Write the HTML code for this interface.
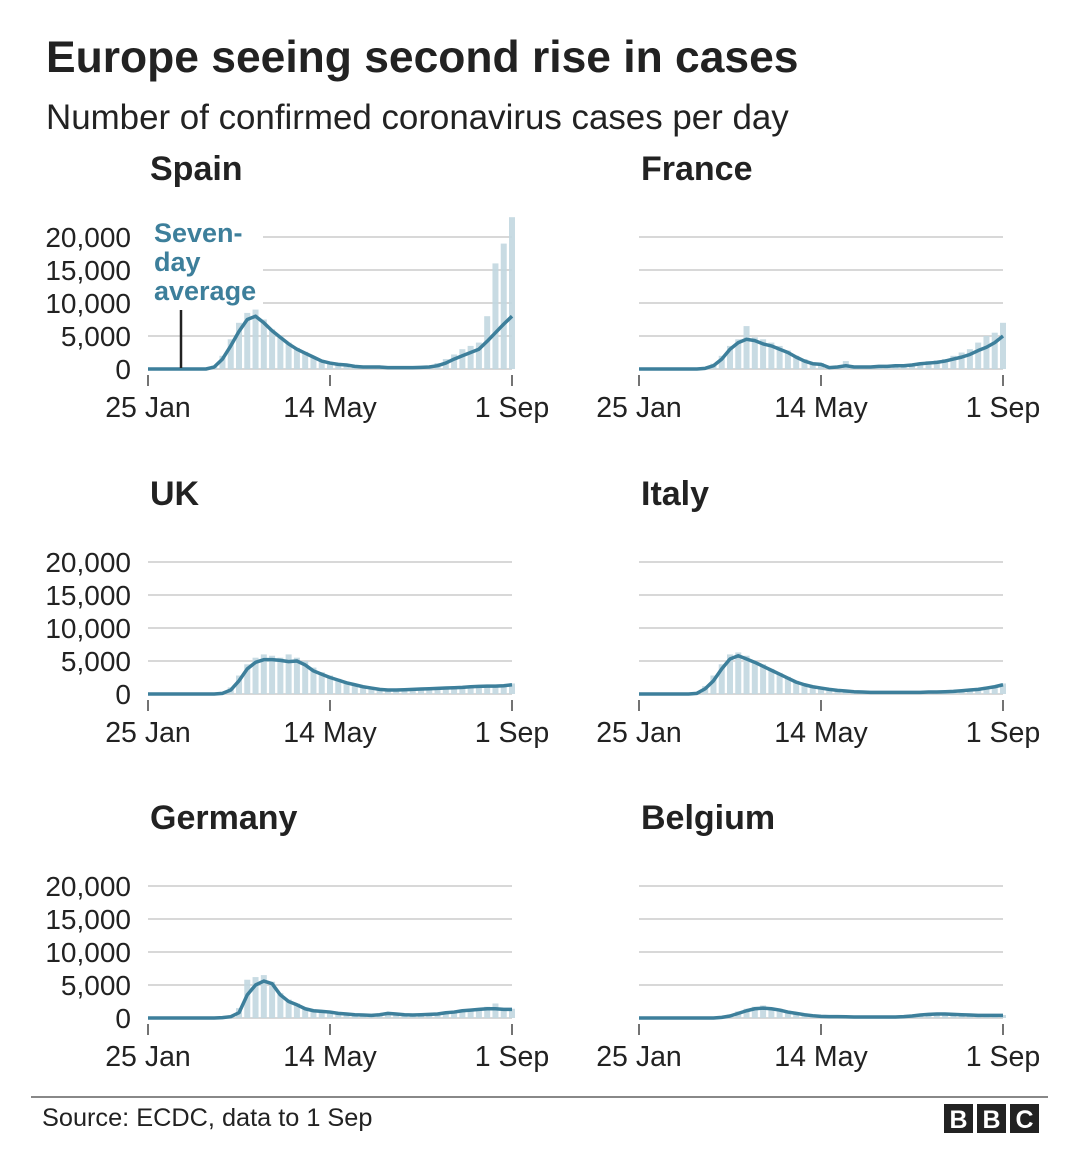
<!DOCTYPE html>
<html><head><meta charset="utf-8"><style>
html,body{margin:0;padding:0;background:#fff;}
svg{display:block;font-family:"Liberation Sans",Arial,sans-serif;}
</style></head><body>
<svg id="chart" width="1080" height="1164" viewBox="0 0 1080 1164">
<text x="46" y="72" font-size="44.4" font-weight="bold" fill="#222">Europe seeing second rise in cases</text>
<text x="46" y="129" font-size="34.9" fill="#222">Number of confirmed coronavirus cases per day</text>
<g id="panels"></g>
<line x1="31" y1="1097" x2="1048" y2="1097" stroke="#888" stroke-width="2"/>
<text x="42" y="1126" font-size="25.3" fill="#222">Source: ECDC, data to 1 Sep</text>
<g>
<rect x="944" y="1104" width="29" height="29" fill="#222"/><rect x="977" y="1104" width="29" height="29" fill="#222"/><rect x="1010" y="1104" width="29" height="29" fill="#222"/>
<text x="958.5" y="1128" font-size="25" font-weight="bold" fill="#fff" text-anchor="middle">B</text>
<text x="991.5" y="1128" font-size="25" font-weight="bold" fill="#fff" text-anchor="middle">B</text>
<text x="1024.5" y="1128" font-size="25" font-weight="bold" fill="#fff" text-anchor="middle">C</text>
</g>
</svg>
<script>
// day offsets from 25 Jan, every 5 days (0..220)
const days = [0,5,10,15,20,25,30,35,40,45,50,55,60,65,70,75,80,85,90,95,100,105,110,115,120,125,130,135,140,145,150,155,160,165,170,175,180,185,190,195,200,205,210,215,220];
const yTicks = [0,5000,10000,15000,20000];
const yTickLabels = ["0","5,000","10,000","15,000","20,000"];
const xTickDays = [0,110,220];
const xTickLabels = ["25 Jan","14 May","1 Sep"];
const countries = ["Spain","France","UK","Italy","Germany","Belgium"];
const spainAvg = [0,0,0,0,0,0,0,0,300,1500,3500,5700,7500,8000,7000,5800,4800,3800,3000,2400,1800,1200,900,700,600,400,300,300,300,200,200,200,200,250,300,500,900,1500,2000,2500,3000,4200,5500,6800,8000];
const spainBars = [0,0,0,0,0,0,0,0,500,2000,4500,7000,8500,9000,7500,6000,5000,4000,3200,2600,1900,1300,1000,800,700,500,300,300,300,200,200,200,200,300,500,900,1500,2200,3000,3500,4000,8000,16000,19000,23000];
const franceAvg = [0,0,0,0,0,0,0,0,100,500,1500,3000,4000,4500,4300,3800,3500,3000,2500,1800,1200,800,700,200,300,500,300,300,300,400,400,500,500,600,800,900,1000,1200,1500,1800,2200,2800,3300,4000,5000];
const franceBars = [0,0,0,0,0,0,0,0,200,800,2000,3500,4500,6500,4800,4500,4000,3500,2800,2000,1500,1000,900,400,500,1200,400,400,500,500,600,700,700,800,1000,1200,1300,1500,2000,2500,3000,4000,5000,5500,7000];
const ukAvg = [0,0,0,0,0,0,0,0,0,100,600,2000,3800,4800,5200,5200,5100,4900,5000,4400,3500,3000,2500,2100,1700,1400,1100,900,700,600,600,650,700,750,800,850,900,950,1000,1100,1150,1200,1200,1250,1400];
const ukBars = [0,0,0,0,0,0,0,0,0,200,1000,2800,4500,5500,6000,5800,5500,6000,5500,5000,4000,3300,2800,2300,1800,1500,1200,1000,800,700,700,700,800,800,900,900,1000,1000,1100,1200,1200,1300,1300,1400,1600];
const italyAvg = [0,0,0,0,0,0,0,100,800,2000,3800,5300,5800,5300,4800,4200,3600,3000,2400,1800,1400,1100,900,700,550,450,350,300,250,250,250,250,250,250,250,300,300,350,400,500,600,700,900,1100,1400];
const italyBars = [0,0,0,0,0,0,0,200,1200,2800,4500,6000,6300,5800,5000,4500,3800,3200,2600,2000,1500,1200,1000,800,600,500,400,350,300,300,300,300,300,300,300,350,350,400,500,600,700,900,1100,1300,1600];
const germanyAvg = [0,0,0,0,0,0,0,0,0,50,200,800,3500,5000,5600,5200,3500,2500,2000,1400,1100,1000,900,700,600,500,450,400,500,700,600,500,450,500,550,600,800,900,1100,1200,1300,1400,1400,1300,1300];
const germanyBars = [0,0,0,0,0,0,0,0,0,100,400,1500,5800,6200,6500,5500,3800,2800,2200,1500,1200,1100,1000,800,700,600,500,450,600,800,700,600,500,600,600,700,900,1000,1300,1400,1500,1700,2200,1500,1400];
const belgiumAvg = [0,0,0,0,0,0,0,0,0,0,100,300,700,1100,1400,1500,1400,1200,900,700,500,350,250,200,200,180,150,150,150,150,150,150,200,300,450,550,600,600,550,500,450,400,400,400,400];
const belgiumBars = [0,0,0,0,0,0,0,0,0,0,200,500,1000,1400,1700,1900,1600,1400,1100,800,600,400,300,250,250,200,200,200,200,200,200,200,250,350,500,600,700,700,600,550,500,450,450,500,450];

const avgs=[spainAvg,franceAvg,ukAvg,italyAvg,germanyAvg,belgiumAvg];
const bars=[spainBars,franceBars,ukBars,italyBars,germanyBars,belgiumBars];
const NS="http://www.w3.org/2000/svg";
const root=document.getElementById('panels');
function mk(tag,attrs,parent){const e=document.createElementNS(NS,tag);for(const k in attrs)e.setAttribute(k,attrs[k]);(parent||root).appendChild(e);return e;}
countries.forEach((c,i)=>{
  const col=i%2,row=Math.floor(i/2);
  const x0=col?639:148,x1=col?1003:512,y0=[369,694,1018][row];
  const slug=c.toLowerCase();
  const g=mk('g',{});
  
  
  const xs=d=>x0+(x1-x0)*d/220, ys=v=>y0-v*132/20000;
  const t=mk('text',{x:x0+2,y:y0-189,'font-size':34,'font-weight':'bold',fill:'#222'},g);t.textContent=c;
  
  
  yTicks.forEach((v,k)=>{
    const start=(i===0&&v>=10000)?263:x0;
    const l=mk('line',{x1:start,x2:x1,y1:ys(v),y2:ys(v),stroke:'#ccc','stroke-width':1.5},g);
    
    
    if(col===0){const tl=mk('text',{x:131,y:ys(v)+10,'font-size':28,fill:'#222','text-anchor':'end'},g);tl.textContent=yTickLabels[k];
      
      }
  });
  bars[i].forEach((v,k)=>{
    const b=mk('rect',{x:xs(days[k])-3,y:ys(v),width:6,height:y0-ys(v),fill:'#c2d7e0',opacity:0.9},g);
    
    
  });
  const p=mk('polyline',{points:avgs[i].map((v,k)=>xs(days[k])+','+ys(v)).join(' '),fill:'none',stroke:'#3d7f9b','stroke-width':3.5,'stroke-linejoin':'round'},g);
  
  
  xTickDays.forEach((d,k)=>{
    mk('line',{x1:xs(d),x2:xs(d),y1:y0+6,y2:y0+17,stroke:'#444','stroke-width':1.5},g);
    const tl=mk('text',{x:xs(d),y:y0+48,'font-size':28.5,fill:'#222','text-anchor':'middle'},g);tl.textContent=xTickLabels[k];
    
    
  });
  if(i===0){
    const a=mk('g',{},g);
    
    
    ['Seven-','day','average'].forEach((s,k)=>{const tt=mk('text',{x:154,y:242+k*29,'font-size':27,'font-weight':'bold',fill:'#3d7f9b'},a);tt.textContent=s;});
    mk('line',{x1:181,x2:181,y1:310,y2:368,stroke:'#222','stroke-width':2.5},a);
  }
});
</script>
</body></html>
